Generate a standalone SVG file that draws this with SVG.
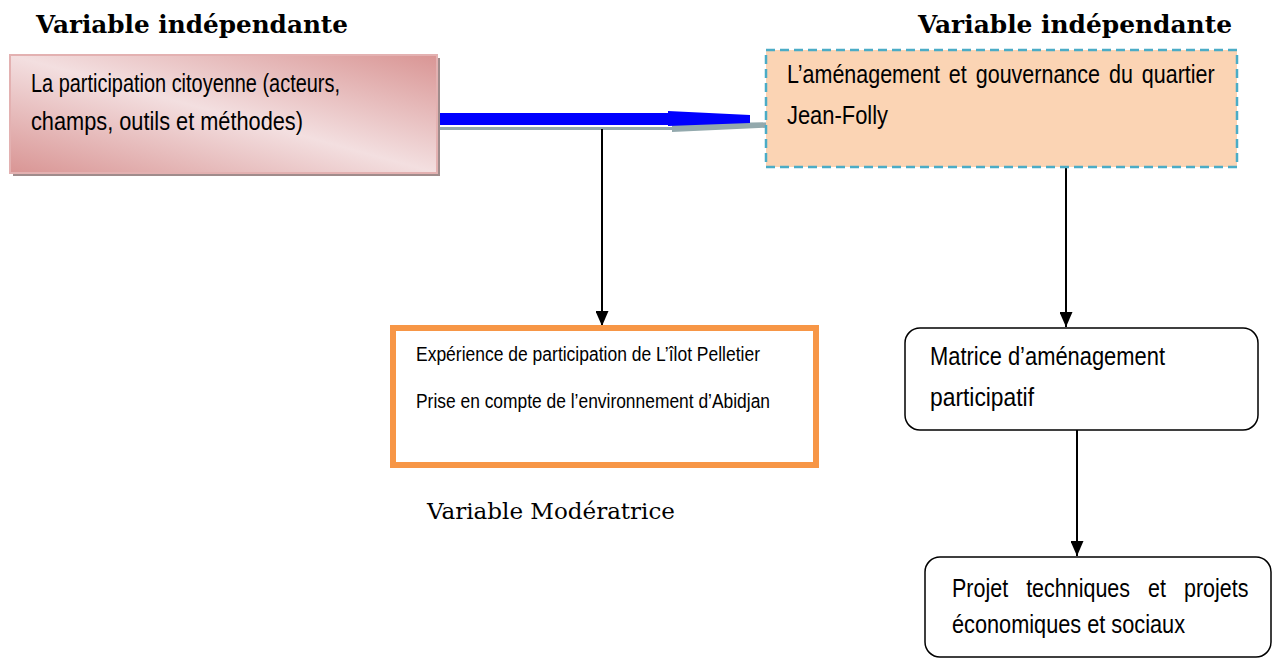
<svg xmlns="http://www.w3.org/2000/svg" width="1273" height="659" viewBox="0 0 1273 659">
<style>
.t{font-family:"Liberation Sans",Arial,sans-serif;fill:#000}
.h{font-family:"DejaVu Serif","Liberation Serif",serif;font-weight:bold;font-size:24px;fill:#000}
.s{font-family:"DejaVu Serif","Liberation Serif",serif;font-size:23px;fill:#000}
.ln{stroke:#000;stroke-width:2;fill:none}
</style>
<defs>
<linearGradient id="pink" x1="0" y1="1" x2="1" y2="0">
<stop offset="0" stop-color="#d99594"/>
<stop offset="0.5" stop-color="#f3dfe0"/>
<stop offset="1" stop-color="#d99594"/>
</linearGradient>
<marker id="arr" markerWidth="15" markerHeight="13" refX="15" refY="6.5" orient="auto" markerUnits="userSpaceOnUse">
<path d="M0,0 L15,6.5 L0,13 Z" fill="#000"/>
</marker>
</defs>
<rect width="1273" height="659" fill="#fff"/>

<g id="titles">
<text class="h" x="36" y="33" textLength="312" lengthAdjust="spacingAndGlyphs">Variable indépendante</text>
<text class="h" x="918" y="33" textLength="314" lengthAdjust="spacingAndGlyphs">Variable indépendante</text>
<text class="s" x="427" y="519" textLength="248" lengthAdjust="spacingAndGlyphs">Variable Modératrice</text>
</g>

<g id="connectors">
<polygon points="438,127 672,127 672,124 783,122 783,127 672,132 672,130 438,130" fill="#93a9ad"/>
<polygon points="433,113 668,113 668,111 750,115 750,123 668,126 668,125 433,125" fill="#0000ff"/>
<line class="ln" x1="602" y1="129" x2="602" y2="326" marker-end="url(#arr)"/>
<line class="ln" x1="1066" y1="167" x2="1066" y2="327" marker-end="url(#arr)"/>
<line class="ln" x1="1077" y1="430" x2="1077" y2="556" marker-end="url(#arr)"/>
</g>

<g id="node-participation">
<rect x="13" y="58" width="427" height="118" fill="#a08c8c"/>
<rect x="10" y="55" width="427" height="118" fill="url(#pink)" stroke="#e3b1b1" stroke-width="2"/>
<text class="t" font-size="25" x="31" y="92" textLength="309" lengthAdjust="spacingAndGlyphs">La participation citoyenne (acteurs,</text>
<text class="t" font-size="25" x="31" y="130" textLength="272" lengthAdjust="spacingAndGlyphs">champs, outils et méthodes)</text>
</g>

<g id="node-amenagement">
<rect x="766" y="50" width="471" height="117" fill="#fbd4b4" stroke="#4bacc6" stroke-width="2.5" stroke-dasharray="9,5"/>
<text class="t" font-size="25" transform="translate(787,83) scale(0.86,1)" word-spacing="3.5">L’aménagement et gouvernance du quartier</text>
<text class="t" font-size="25" x="787" y="124" textLength="101" lengthAdjust="spacingAndGlyphs">Jean-Folly</text>
</g>

<g id="node-moderatrice">
<rect x="393" y="328" width="423" height="137" fill="#fff" stroke="#f79646" stroke-width="6"/>
<text class="t" font-size="20" x="416" y="361" textLength="344" lengthAdjust="spacingAndGlyphs">Expérience de participation de L’îlot Pelletier</text>
<text class="t" font-size="20" x="416" y="408" textLength="354" lengthAdjust="spacingAndGlyphs">Prise en compte de l’environnement d’Abidjan</text>
</g>

<g id="node-matrice">
<rect x="905" y="328" width="353" height="102" rx="15" ry="15" fill="#fff" stroke="#000" stroke-width="1.5"/>
<text class="t" font-size="25" x="930" y="365" textLength="235" lengthAdjust="spacingAndGlyphs">Matrice d’aménagement</text>
<text class="t" font-size="25" x="930" y="406" textLength="104" lengthAdjust="spacingAndGlyphs">participatif</text>
</g>

<g id="node-projets">
<rect x="925" y="557" width="346" height="100" rx="15" ry="15" fill="#fff" stroke="#000" stroke-width="1.5"/>
<text class="t" font-size="25" transform="translate(952,597) scale(0.86,1)" word-spacing="14">Projet techniques et projets</text>
<text class="t" font-size="25" x="952" y="633" textLength="233" lengthAdjust="spacingAndGlyphs">économiques et sociaux</text>
</g>
</svg>
